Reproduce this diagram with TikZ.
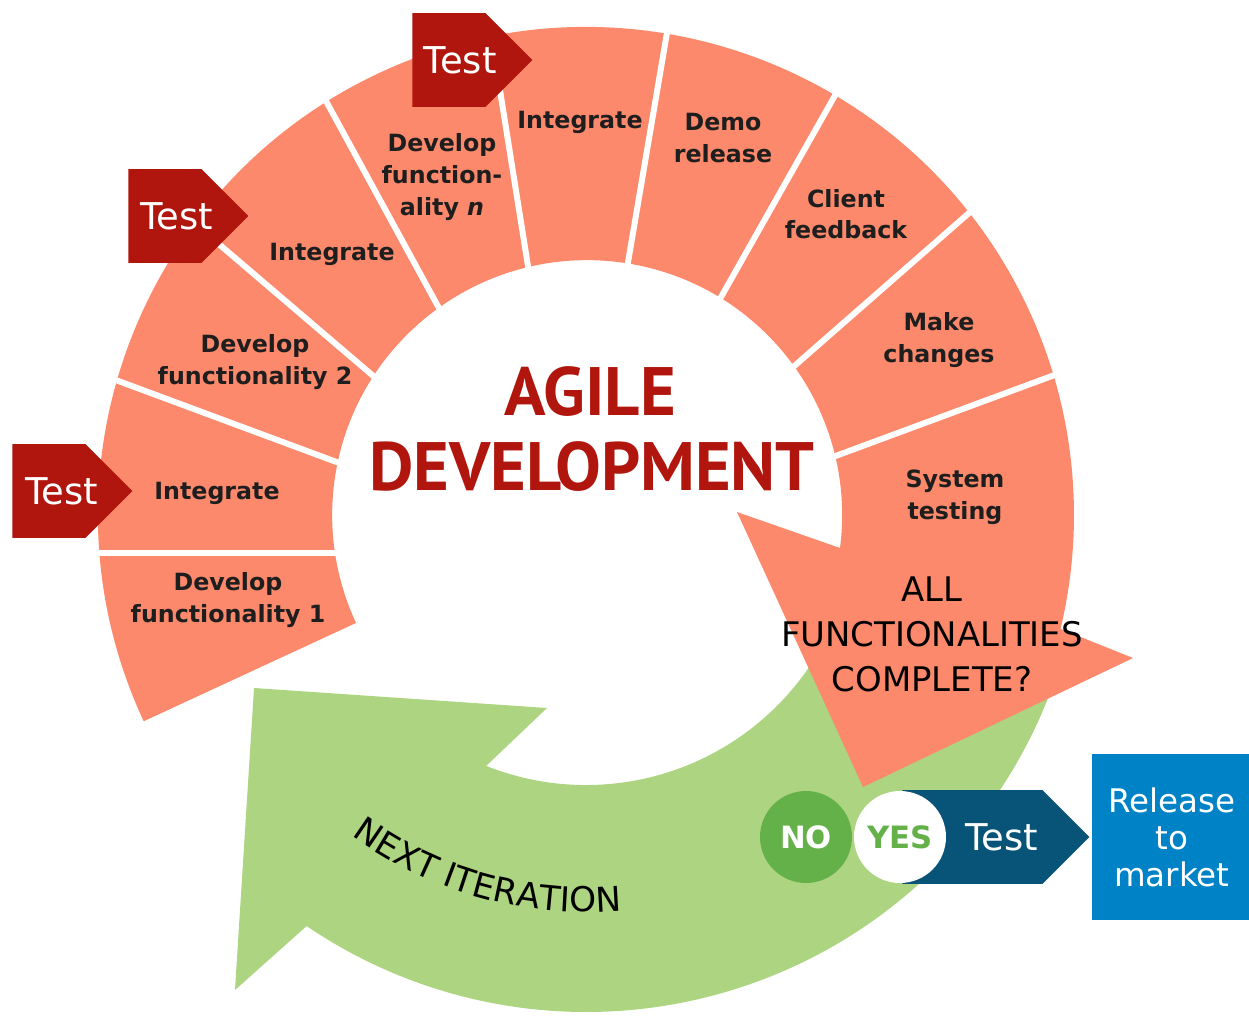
\documentclass[tikz,border=0pt]{standalone}
\usepackage{fontspec}
\setmainfont{DejaVu Sans}
\newfontfamily\titlefont{PT Sans}
\usetikzlibrary{shapes.symbols,decorations.text}

\definecolor{salmon}{RGB}{252,137,107}
\definecolor{tagred}{RGB}{176,22,14}
\definecolor{loopgreen}{RGB}{173,212,128}
\definecolor{nogreen}{RGB}{100,177,74}
\definecolor{navy}{RGB}{7,84,120}
\definecolor{relblue}{RGB}{0,131,198}
\definecolor{labelblack}{RGB}{30,30,30}

\tikzset{
  stagelabel/.style={align=center, text=labelblack, font=\bfseries\fontsize{13.5}{18}\selectfont},
  testtag/.style={signal, signal to=east, signal pointer angle=90, fill=tagred,
    anchor=west, inner sep=0pt, minimum height=1.88cm, minimum width=2.4cm},
  tagtext/.style={anchor=west, inner sep=0pt, text=white, font=\fontsize{21}{24}\selectfont},
  divider/.style={white, line width=3.4pt},
  titletext/.style={anchor=base, text=tagred, font=\titlefont\bfseries\fontsize{39}{44}\selectfont},
  answer/.style={circle, inner sep=0pt, minimum size=1.84cm, font=\bfseries\fontsize{17.5}{20}\selectfont},
}

\begin{document}
\begin{tikzpicture}[x=0.02cm, y=-0.02cm]
    \useasboundingbox (0,0) rectangle (1249,1018);
    \coordinate (C) at (586,515);

    \fill[loopgreen] (C) ++(16:497) arc[start angle=16, end angle=124.2, radius=497]
        -- (235,990) -- (254,688) -- (547,708) -- (486.2,765.9)
        arc[start angle=111.7, end angle=16, radius=270] -- cycle;

    \fill[salmon] (C) ++(155:488) arc[start angle=155, end angle=373.5, radius=488]
        -- (1133,658) -- (863,787) -- (737,512) -- (840,548)
        arc[start angle=7.4, end angle=-205, radius=255] -- cycle;

    \draw[divider] (95,553) -- (345,553);
    \draw[divider] (113,379) -- (350,467);
    \draw[divider] (200,228) -- (385,386);
    \draw[divider] (320,90) -- (446,321);
    \draw[divider] (492,40) -- (531,285);
    \draw[divider] (670,15) -- (625,280);
    \draw[divider] (842,83) -- (712,313);
    \draw[divider] (977,206) -- (784,375);
    \draw[divider] (1060,373) -- (822,461);

    \node (dev1) at (228,600) [stagelabel] {Develop\\functionality 1};
    \node (int1) at (217,493) [stagelabel] {Integrate};
    \node (dev2) at (255,362) [stagelabel] {Develop\\functionality 2};
    \node (int2) at (332,254) [stagelabel] {Integrate};
    \node (devn) at (442,177) [stagelabel] {Develop\\function-\\ality \textit{n}};
    \node (int3) at (580,122) [stagelabel] {Integrate};
    \node (demo) at (723,138) [stagelabel] {Demo\\release};
    \node (client) at (846,214) [stagelabel] {Client\\feedback};
    \node (change) at (939,340) [stagelabel] {Make\\changes};
    \node (systest) at (955,497) [stagelabel] {System\\testing};

    \node (allq) at (932,634) [align=center, font=\fontsize{19.3}{25.6}\selectfont] {ALL\\FUNCTIONALITIES\\COMPLETE?};

    \node (agile) at (590,415) [titletext] {AGILE};
    \node (devt) at (592,490) [titletext] {DEVELOPMENT};

    \path[decorate, decoration={text along path, text align=center,
        text={|\fontsize{19.5}{22}\selectfont|NEXT ITERATION}}]
        (C) ++(127:397) arc[start angle=127, end angle=84, radius=397];

    \node (test1) at (412,60) [testtag] {};
    \node (test1txt) at ([xshift=0.23cm]test1.west) [tagtext] {Test};
    \node (test2) at (128,216) [testtag] {};
    \node (test2txt) at ([xshift=0.24cm]test2.west) [tagtext] {Test};
    \node (test3) at (12,491) [testtag] {};
    \node (test3txt) at ([xshift=0.26cm]test3.west) [tagtext] {Test};

    \node (testgo) at (902,837) [testtag, fill=navy, minimum width=3.74cm] {};
    \node (testgotxt) at ([xshift=1.26cm]testgo.west) [tagtext] {Test};
    \node (yes) at (900,837) [answer, fill=white, text=nogreen] {YES};
    \node (no) at (806,837) [answer, fill=nogreen, text=white] {NO};
    \node (release) at (1172,837) [fill=relblue, text=white, minimum width=3.2cm,
        minimum height=3.32cm, align=center, font=\fontsize{18.5}{21}\selectfont] {Release\\to\\market};
\end{tikzpicture}
\end{document}
